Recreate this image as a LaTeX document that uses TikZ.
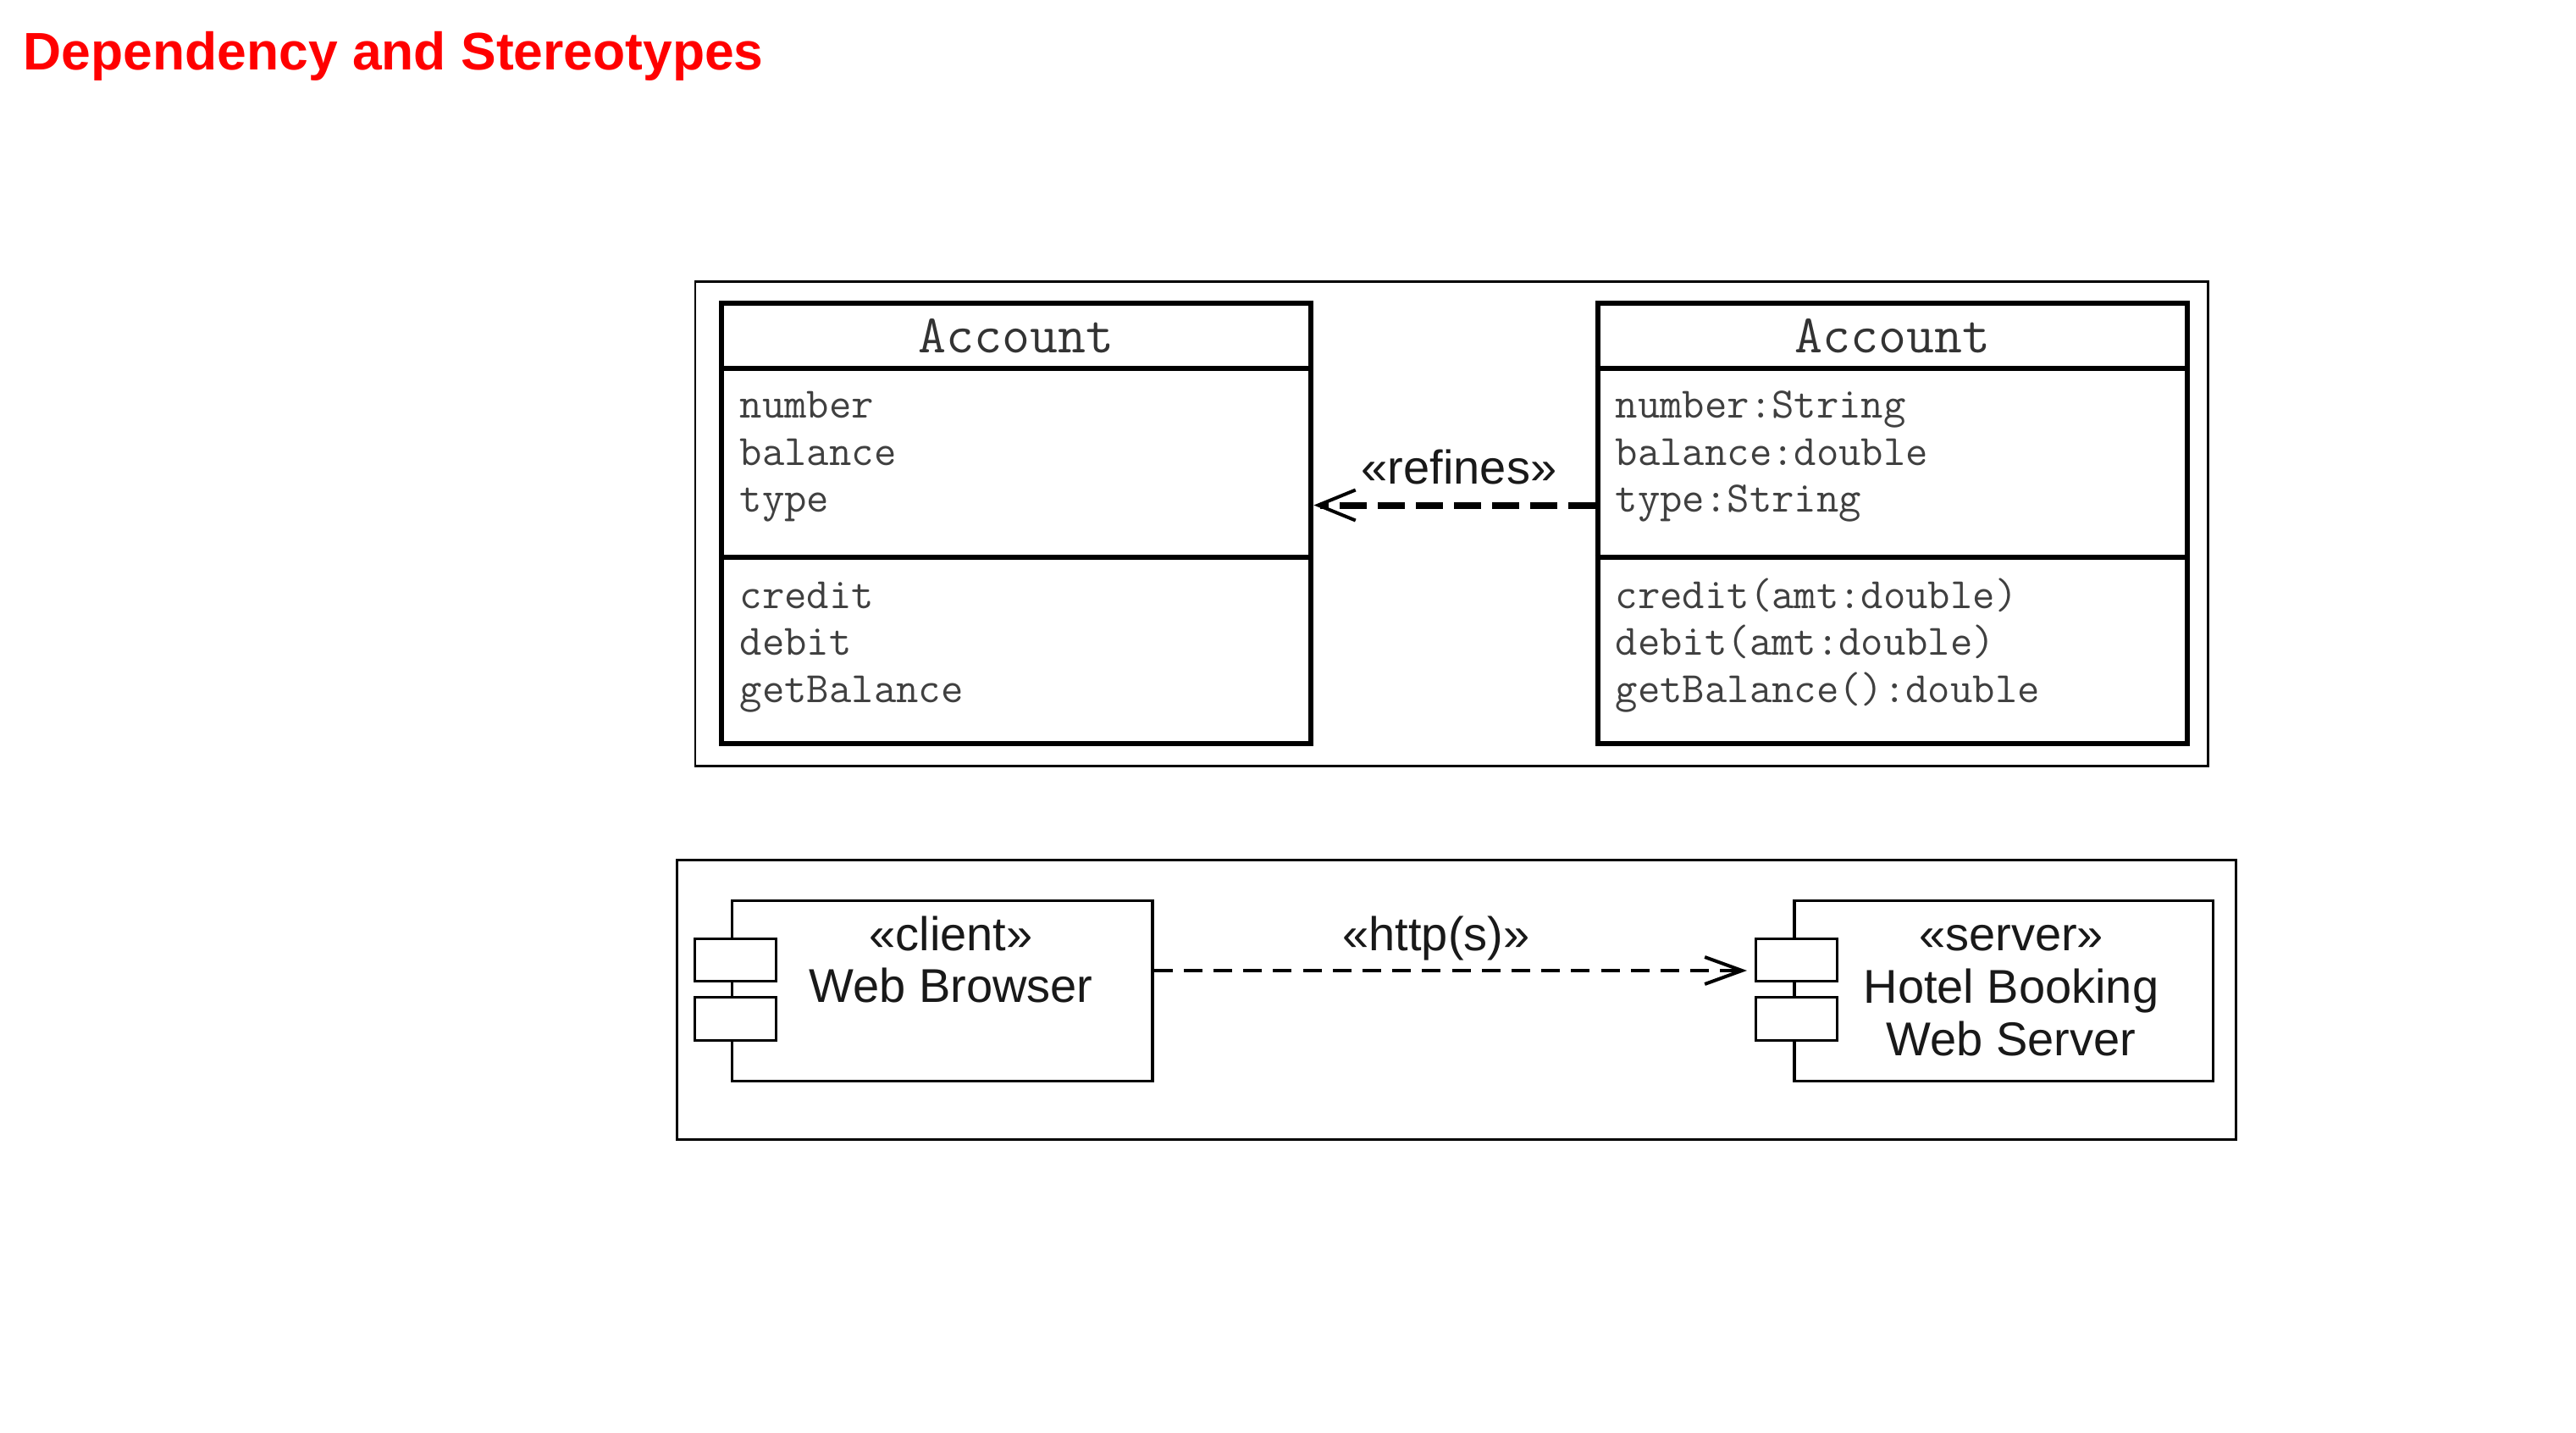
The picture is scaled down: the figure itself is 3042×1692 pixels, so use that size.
\documentclass[tikz,border=0pt]{standalone}
\usepackage{fontspec}
\setmainfont{Liberation Sans}
\usetikzlibrary{arrows.meta}
\begin{document}
\begin{tikzpicture}[x=0.25pt,y=-0.25pt,
  frame/.style={draw, line width=0.7pt, inner sep=0pt},
  classbox/.style={draw, line width=1.5pt, minimum width=174.1pt, minimum height=129.9pt, inner sep=0pt},
  divider/.style={line width=1.5pt},
  compbox/.style={draw, line width=0.8pt, minimum height=53.25pt, inner sep=0pt},
  portbox/.style={draw, fill=white, line width=0.7pt, minimum width=24pt, minimum height=12.6pt, inner sep=0pt},
  attr/.style={font=\ttfamily\fontsize{12.8}{15}\selectfont, text=black!75, anchor=base west, inner sep=0pt},
  cname/.style={font=\ttfamily\fontsize{16}{18}\selectfont, text=black!80, inner sep=0pt},
  umltext/.style={font=\fontsize{14}{16}\selectfont, text=black!90, anchor=base, inner sep=0pt},
  refarrow/.style={line width=2pt, dash pattern=on 8pt off 3.25pt, -{Straight Barb[length=11pt,width=9pt,line width=1pt]}},
  httparrow/.style={line width=0.9pt, dash pattern=on 5.5pt off 3.3pt, -{Straight Barb[length=11pt,width=8pt,line width=1pt]}}
]
\useasboundingbox[fill=white] (0,0) rectangle (3042,1692);

% title
\node[anchor=base west, inner sep=0pt, font=\bfseries\fontsize{15.6}{18}\selectfont, text=red] (title) at (27,82) {Dependency and Stereotypes};

% ---------- top panel ----------
\node[frame, minimum width=446.6pt, minimum height=143pt] (topframe) at (1714.25,618.5) {};

\node[classbox] (L) at (1200.25,617.75) {};
\node[classbox] (R) at (2234.75,617.75) {};
\foreach \n in {L,R}{
  \draw[divider] (\n.west |- 0,434.5) -- (\n.east |- 0,434.5);
  \draw[divider] (\n.west |- 0,658) -- (\n.east |- 0,658);
}
\node[cname] (Lname) at (1200.25,397) {Account};
\node[cname] (Rname) at (2234.75,397) {Account};

\node[attr] (L1) at (873,493) {number};
\node[attr] (L2) at (873,549) {balance};
\node[attr] (L3) at (873,604) {type};
\node[attr] (L4) at (873,718) {credit};
\node[attr] (L5) at (873,773) {debit};
\node[attr] (L6) at (873,829) {getBalance};

\node[attr] (R1) at (1907,493) {number:String};
\node[attr] (R2) at (1907,549) {balance:double};
\node[attr] (R3) at (1907,604) {type:String};
\node[attr] (R4) at (1907,718) {credit(amt:double)};
\node[attr] (R5) at (1907,773) {debit(amt:double)};
\node[attr] (R6) at (1907,829) {getBalance():double};

\coordinate (refy) at (0,596.5);
\draw[refarrow] (R.west |- refy) -- (L.east |- refy);
\node[umltext] (reflabel) at (1723,571) {«refines»};

% ---------- bottom panel ----------
\node[frame, minimum width=460.25pt, minimum height=82.5pt] (botframe) at (1720,1180.5) {};

\node[compbox, minimum width=124.1pt] (client) at (1112.75,1170) {};
\node[portbox] (cp1) at (868.5,1133.5) {};
\node[portbox] (cp2) at (868.5,1203) {};

\node[compbox, minimum width=123.6pt] (server) at (2366.25,1170) {};
\node[portbox] (sp1) at (2121.5,1133.5) {};
\node[portbox] (sp2) at (2121.5,1203) {};

\node[umltext] (c1) at (1123,1122) {«client»};
\node[umltext] (c2) at (1123,1183) {Web Browser};
\node[umltext] (s1) at (2375,1122) {«server»};
\node[umltext] (s2) at (2375,1184) {Hotel Booking};
\node[umltext] (s3) at (2375,1246) {Web Server};

\coordinate (tip) at (2063,1146);
\draw[httparrow] (tip -| client.east) -- (tip);
\node[umltext] (httplabel) at (1696,1122) {«http(s)»};
\end{tikzpicture}
\end{document}
